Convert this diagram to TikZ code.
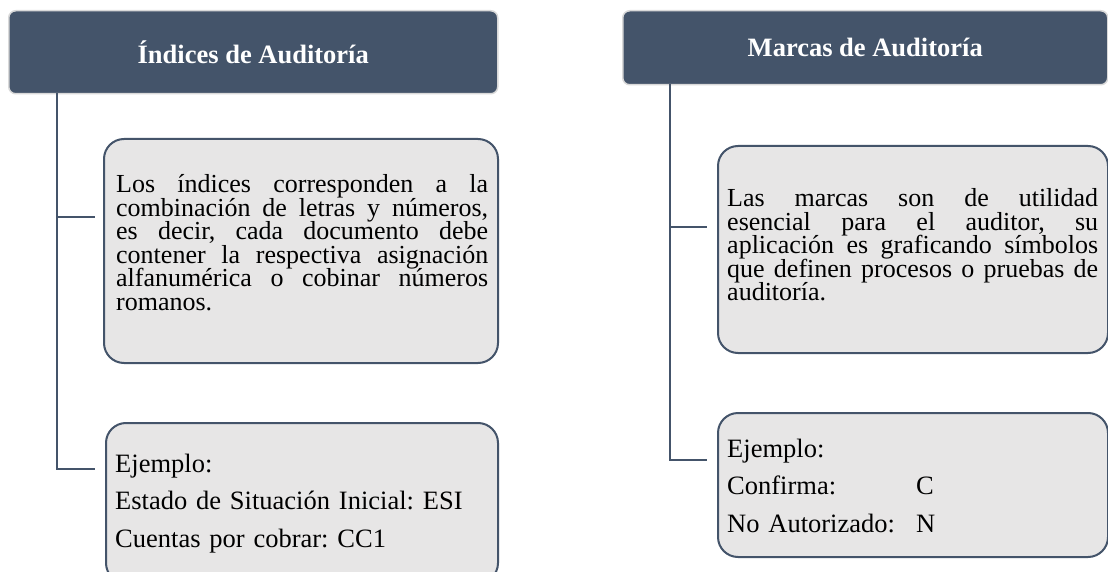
\documentclass[tikz,border=0pt]{standalone}
\usepackage{fontspec}
\setmainfont{Liberation Serif}
\frenchspacing
\definecolor{slate}{HTML}{44546A}
\definecolor{boxfill}{HTML}{E7E6E6}
\definecolor{hdrline}{HTML}{D9D9D9}
\newcommand{\tightpar}{\frenchspacing\lineskiplimit=-50pt\relax\tolerance=10000\relax\hbadness=10000\relax\hyphenpenalty=10000\relax}
\tikzset{
  hdr/.style={draw=hdrline, line width=1.5pt, fill=slate, rounded corners=7pt, anchor=north west, inner sep=0pt,
    text=white, font=\fontsize{26.5}{30}\selectfont\bfseries},
  childbox/.style={draw=slate, line width=2pt, fill=boxfill, rounded corners=20pt, anchor=north west, inner sep=0pt},
  bodytext/.style={anchor=base west, inner sep=0pt, text width=372pt, align=justify,
    font=\fontsize{26}{23.5}\selectfont\tightpar},
  listtext/.style={anchor=base west, inner sep=0pt, text width=380pt, align=left,
    font=\fontsize{26.5}{37.5}\selectfont\frenchspacing},
  conn/.style={draw=slate, line width=2.5pt}
}
\begin{document}
\begin{tikzpicture}[x=1pt,y=-1pt]
\clip (0,0) rectangle (1108,572);
\fill[white] (0,0) rectangle (1108,572);

% headers
\node[hdr, minimum width=489pt, minimum height=83pt] (h1) at (8,10) {Índices de Auditoría};
\node[hdr, minimum width=485pt, minimum height=74pt] (h2) at (622,10) {Marcas de Auditoría};

% left boxes
\node[childbox, minimum width=394pt, minimum height=224pt] (b1) at (103,138) {};
\node[childbox, minimum width=392pt, minimum height=160pt] (b2) at (105,422) {};
% right boxes
\node[childbox, minimum width=390pt, minimum height=207pt] (b3) at (717,145) {};
\node[childbox, minimum width=390pt, minimum height=144pt] (b4) at (717,412) {};

% texts
\node[bodytext] (t1) at (116,193) {Los índices corresponden a la\linebreak
combinación de letras y números,\linebreak
es decir, cada documento debe\linebreak
contener la respectiva asignación\linebreak
alfanumérica o cobinar números\linebreak
romanos.};
\node[listtext] (t2) at (115,472) {Ejemplo:\\
Estado de Situación Inicial: ESI\\
Cuentas por cobrar: CC1};
\node[bodytext, text width=371pt] (t3) at (727,207) {Las marcas son de utilidad\linebreak
esencial para el auditor, su\linebreak
aplicación es graficando símbolos\linebreak
que definen procesos o pruebas de\linebreak
auditoría.};
\node[listtext, text width=370pt] (t4) at (727,457) {Ejemplo:\\
\makebox[189pt][l]{Confirma:}C\\
\makebox[189pt][l]{No Autorizado:}N};

% connectors
\coordinate (v1) at (57,93);
\coordinate (e1) at (95,217);
\coordinate (e2) at (95,469);
\draw[conn] (v1) |- (e2);
\draw[conn] (v1 |- e1) -- (e1);

\coordinate (v2) at (670,84);
\coordinate (e3) at (707,227);
\coordinate (e4) at (707,460);
\draw[conn] (v2) |- (e4);
\draw[conn] (v2 |- e3) -- (e3);
\end{tikzpicture}
\end{document}
